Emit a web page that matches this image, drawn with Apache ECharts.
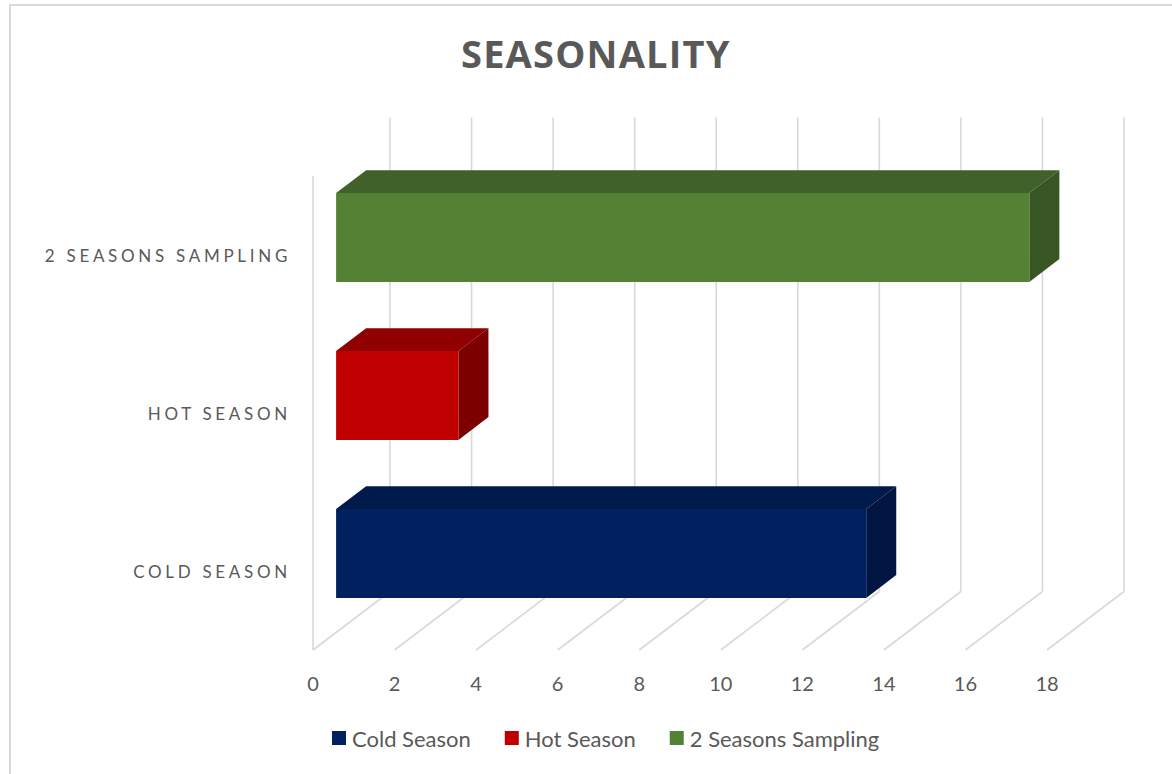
<!DOCTYPE html>
<html>
<head>
<meta charset="utf-8">
<title>Seasonality</title>
<script src="https://cdn.jsdelivr.net/npm/echarts@6/dist/echarts.min.js"></script>
<style>
  html, body { margin: 0; padding: 0; background: #ffffff; }
  #chart { width: 1172px; height: 774px; }
</style>
</head>
<body>
<div id="chart"></div>
<script>
// Chart data
const categories = ['COLD SEASON', 'HOT SEASON', '2 SEASONS SAMPLING'];
const seriesNames = ['Cold Season', 'Hot Season', '2 Seasons Sampling'];
const values = [13, 3, 17];
const xTicks = [0, 2, 4, 6, 8, 10, 12, 14, 16, 18];
const chartTitle = 'SEASONALITY';

// Face colours for each box: front, top, side
const palette = [
  { front: '#002060', top: '#011a4c', side: '#001640' },
  { front: '#c00000', top: '#900000', side: '#7c0000' },
  { front: '#548235', top: '#41612b', side: '#375623' }
];

// Perspective offset from the front plane to the back wall (pixels)
const DEPTH = [77, -58.5];
const BOX_FRONT = 0.3;   // box starts 30% into the depth
const BOX_BACK = 0.69;   // and ends at 69%
const BAR_RATIO = 0.563; // box height as a share of the category band
const GRID_COLOR = '#d9d9d9';

// Tracking (letter spacing) for the upper-case texts
const letterSpacing = new Map();
categories.forEach(c => letterSpacing.set(c, '3.7px'));
letterSpacing.set(chartTitle, '1.2px');

const FONT = 'Lato, "Open Sans", sans-serif';

// Back wall, floor and side-wall edge
function renderFrame(params, api) {
  const cs = params.coordSys;
  const v = api.value(0);
  const x = api.coord([v, 0])[0];
  const bottom = cs.y + cs.height;
  const lineStyle = { stroke: GRID_COLOR, lineWidth: 1.6, fill: null };
  const children = [
    { type: 'line', shape: { x1: x, y1: bottom, x2: x + DEPTH[0], y2: bottom + DEPTH[1] }, style: lineStyle },
    { type: 'line', shape: { x1: x + DEPTH[0], y1: cs.y + DEPTH[1], x2: x + DEPTH[0], y2: bottom + DEPTH[1] }, style: lineStyle }
  ];
  if (v === 0) {
    children.push({ type: 'line', shape: { x1: x, y1: cs.y, x2: x, y2: bottom }, style: lineStyle });
  }
  return { type: 'group', silent: true, children };
}

// One shaded box per category
function makeBoxRenderer(colors) {
  return function (params, api) {
    const val = api.value(0);
    const cat = api.value(1);
    const start = api.coord([0, cat]);
    const end = api.coord([val, cat]);
    const band = api.size([0, 1])[1];
    const h = band * BAR_RATIO;
    const fx = DEPTH[0] * BOX_FRONT, fy = DEPTH[1] * BOX_FRONT;
    const dx = DEPTH[0] * (BOX_BACK - BOX_FRONT), dy = DEPTH[1] * (BOX_BACK - BOX_FRONT);
    const x0 = start[0] + fx, x1 = end[0] + fx;
    const yT = start[1] - h / 2 + fy, yB = yT + h;
    return {
      type: 'group',
      children: [
        { type: 'polygon', shape: { points: [[x0, yT], [x1, yT], [x1 + dx, yT + dy], [x0 + dx, yT + dy]] }, style: { fill: colors.top } },
        { type: 'polygon', shape: { points: [[x1, yT], [x1 + dx, yT + dy], [x1 + dx, yB + dy], [x1, yB]] }, style: { fill: colors.side } },
        { type: 'rect', shape: { x: x0, y: yT, width: x1 - x0, height: h }, style: { fill: colors.front } }
      ]
    };
  };
}

const chartEl = document.getElementById('chart');
const chart = echarts.init(chartEl, null, { renderer: 'svg' });

const series = [{
  name: 'frame',
  type: 'custom',
  silent: true,
  z: 1,
  renderItem: renderFrame,
  data: xTicks.map(v => [v, 0]),
  clip: false
}];
seriesNames.forEach((name, i) => {
  series.push({
    name,
    type: 'custom',
    z: 2,
    renderItem: makeBoxRenderer(palette[i]),
    itemStyle: { color: palette[i].front },
    data: [[values[i], i]],
    clip: false
  });
});

chart.setOption({
  animation: false,
  backgroundColor: '#ffffff',
  graphic: [{
    type: 'rect',
    shape: { x: 10, y: 5, width: 1300, height: 900 },
    style: { fill: null, stroke: '#d9d9d9', lineWidth: 2 },
    silent: true,
    z: -10
  }],
  title: {
    text: chartTitle,
    left: 461,
    top: 34,
    padding: 0,
    textStyle: { color: '#595959', fontSize: 38, fontWeight: 'bold', fontFamily: '"Open Sans", sans-serif' }
  },
  legend: {
    data: seriesNames,
    bottom: 25,
    left: 332,
    padding: 0,
    icon: 'rect',
    itemWidth: 14,
    itemHeight: 14,
    itemGap: 34,
    textStyle: { color: '#595959', fontSize: 22, fontFamily: FONT, padding: [0, 0, 0, 1] }
  },
  grid: { left: 313, right: 125, top: 176, bottom: 124, containLabel: false },
  xAxis: {
    type: 'value',
    min: 0,
    max: 18,
    interval: 2,
    axisLine: { show: false },
    axisTick: { show: false },
    splitLine: { show: false },
    axisLabel: { color: '#595959', fontSize: 20, fontFamily: FONT, margin: 23 }
  },
  yAxis: {
    type: 'category',
    data: categories,
    axisLine: { show: false },
    axisTick: { show: false },
    splitLine: { show: false },
    axisLabel: { color: '#595959', fontSize: 17, fontFamily: FONT, margin: 22, padding: [5, 0, 0, 0] }
  },
  series
});

function applyLetterSpacing() {
  chartEl.querySelectorAll('text').forEach(t => {
    const ls = letterSpacing.get(t.textContent);
    if (ls) {
      t.setAttribute('letter-spacing', ls);
      t.style.letterSpacing = ls;
    }
  });
}
applyLetterSpacing();
chart.on('finished', applyLetterSpacing);
</script>
</body>
</html>
